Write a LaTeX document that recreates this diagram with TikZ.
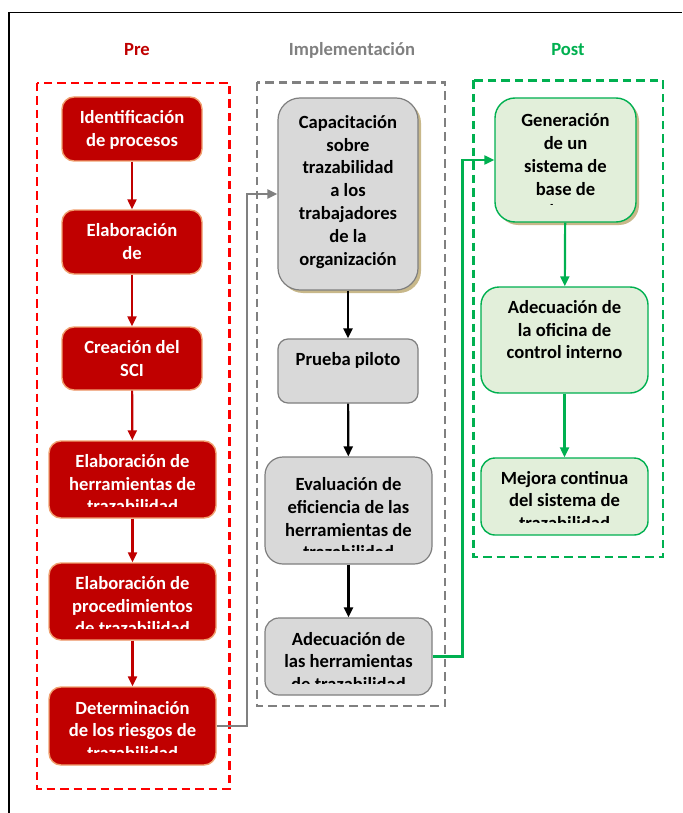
\documentclass[tikz,border=0pt]{standalone}
\usepackage{fontspec}
\setmainfont{Carlito}
\usetikzlibrary{arrows.meta,shadows}
\definecolor{rfill}{HTML}{C00000}
\definecolor{rborder}{HTML}{F0A070}
\definecolor{rdash}{HTML}{FF0000}
\definecolor{gfill}{HTML}{D9D9D9}
\definecolor{gborder}{HTML}{7F7F7F}
\definecolor{gdash}{HTML}{808080}
\definecolor{pfill}{HTML}{E2EFDA}
\definecolor{pgreen}{HTML}{00B050}
\definecolor{shadowc}{HTML}{C8B88A}
\begin{document}
\begin{tikzpicture}[x=1pt,y=-1pt,
  dashbox/.style={line width=2.4, dash pattern=on 8.5pt off 5pt},
  redbox/.style={fill=rfill, draw=rborder, line width=1.4, rounded corners=12, inner sep=0},
  graybox/.style={fill=gfill, draw=gborder, line width=1.2, inner sep=0},
  greenbox/.style={fill=pfill, draw=pgreen, line width=1.4, inner sep=0},
  shad/.style={drop shadow={shadow xshift=3pt, shadow yshift=-3pt, fill=shadowc, opacity=1}},
  txt/.style={font=\bfseries\fontsize{18.6}{22.8}\selectfont, align=center, inner sep=0, anchor=base},
  wtxt/.style={txt, text=white},
  title/.style={font=\bfseries\fontsize{18.6}{22.8}\selectfont, inner sep=0, anchor=base},
  arr/.style={line width=2.2, -{Triangle[length=10pt,width=9pt]}}
]
\useasboundingbox (0,0) rectangle (682,813);
\fill[white] (0,0) rectangle (682,813);
% outer frame
\draw[line width=1.2] (9,813) -- (9,12.5) -- (682,12.5);

% titles
\node[title, text=rfill] (tpre) at (137,56) {Pre};
\node[title, text=gdash] (timp) at (352,56) {Implementación};
\node[title, text=pgreen] (tpost) at (568,56) {Post};

% dashed group frames
\draw[dashbox, rdash] (37,83) rectangle (229.5,789);
\draw[dashbox, gdash] (257,82.5) rectangle (445,706);
\draw[dashbox, pgreen] (473.5,80.5) rectangle (663,557);

% red boxes
\node[redbox, minimum width=140, minimum height=64] (r1) at (132,129) {};
\node[redbox, minimum width=140, minimum height=64] (r2) at (132,242) {};
\node[redbox, minimum width=140, minimum height=63] (r3) at (132,358.5) {};
\node[redbox, minimum width=167, minimum height=77] (r4) at (132.5,479.5) {};
\node[redbox, minimum width=167, minimum height=77] (r5) at (132.5,601.5) {};
\node[redbox, minimum width=167, minimum height=78] (r6) at (132.5,726) {};

% gray boxes
\node[graybox, shad, rounded corners=22, minimum width=140, minimum height=192] (g1) at (348,194) {};
\node[graybox, rounded corners=10, minimum width=140, minimum height=64] (g2) at (348,371) {};
\node[graybox, rounded corners=18, minimum width=167, minimum height=107] (g3) at (348.5,510.5) {};
\node[graybox, rounded corners=14, minimum width=167, minimum height=77] (g4) at (348.5,656.5) {};

% green boxes
\node[greenbox, shad, rounded corners=20, minimum width=141, minimum height=124] (p1) at (565.5,160) {};
\node[greenbox, rounded corners=18, minimum width=167, minimum height=106] (p2) at (564.5,340) {};
\node[greenbox, rounded corners=14, minimum width=167, minimum height=77] (p3) at (564.5,496.5) {};

% texts (anchor base = baseline of last line)
\node[wtxt] (r1t) at (132,146.1) {Identificación\\de procesos};
\node[wtxt] (r2t) at (132,259.5) {Elaboración\\de};
\node[wtxt] (r3t) at (132,376.1) {Creación del\\SCI};
\begin{scope}
\clip (49,441) rectangle (216,506.7);
\node[wtxt] (r4t) at (132.5,512.9) {Elaboración de\\herramientas de\\trazabilidad};
\end{scope}
\begin{scope}
\clip (49,563) rectangle (216,628.3);
\node[wtxt] (r5t) at (132.5,634.9) {Elaboración de\\procedimientos\\de trazabilidad};
\end{scope}
\begin{scope}
\clip (49,687) rectangle (216,752.5);
\node[wtxt] (r6t) at (132.5,759.6) {Determinación\\de los riesgos de\\trazabilidad};
\end{scope}

\node[txt] (g1t) at (348,265.1) {Capacitación\\sobre\\trazabilidad\\a los\\trabajadores\\de la\\organización};
\node[txt] (g2t) at (348,365) {Prueba piloto};
\begin{scope}
\clip (265,457) rectangle (432,550.7);
\node[txt] (g3t) at (348.5,558.9) {Evaluación de\\eficiencia de las\\herramientas de\\trazabilidad};
\end{scope}
\begin{scope}
\clip (265,618) rectangle (432,683.3);
\node[txt] (g4t) at (348.5,690.6) {Adecuación de\\las herramientas\\de trazabilidad};
\end{scope}

\begin{scope}
\clip (495,98) rectangle (636,204.5);
\node[txt] (p1t) at (565.5,217.9) {Generación\\de un\\sistema de\\base de\\datos};
\end{scope}
\node[txt] (p2t) at (564.5,358.9) {Adecuación de\\la oficina de\\control interno};
\begin{scope}
\clip (481,458) rectangle (648,522.7);
\node[txt] (p3t) at (564.5,529.6) {Mejora continua\\del sistema de\\trazabilidad};
\end{scope}

% connectors
\draw[arr, rfill] (r1) -- (r2);
\draw[arr, rfill] (r2) -- (r3);
\draw[arr, rfill] (r3) -- (r4);
\draw[arr, rfill] (r4) -- (r5);
\draw[arr, rfill] (r5) -- (r6);

\draw[arr, black] (g1) -- (g2);
\draw[arr, black] (g2) -- (g3);
\draw[arr, black] (g3) -- (g4);

\draw[arr, pgreen] (p1) -- (p2);
\draw[arr, pgreen] (p2) -- (p3);

\coordinate (gx) at (247,0);
\coordinate (px) at (462.5,0);
\draw[arr, gdash, line width=2.2] (r6.east) -- (r6.east -| gx) |- (g1.west);
\draw[arr, pgreen, line width=2.2] (g4.east) -- (g4.east -| px) |- (p1.west);
\end{tikzpicture}
\end{document}
